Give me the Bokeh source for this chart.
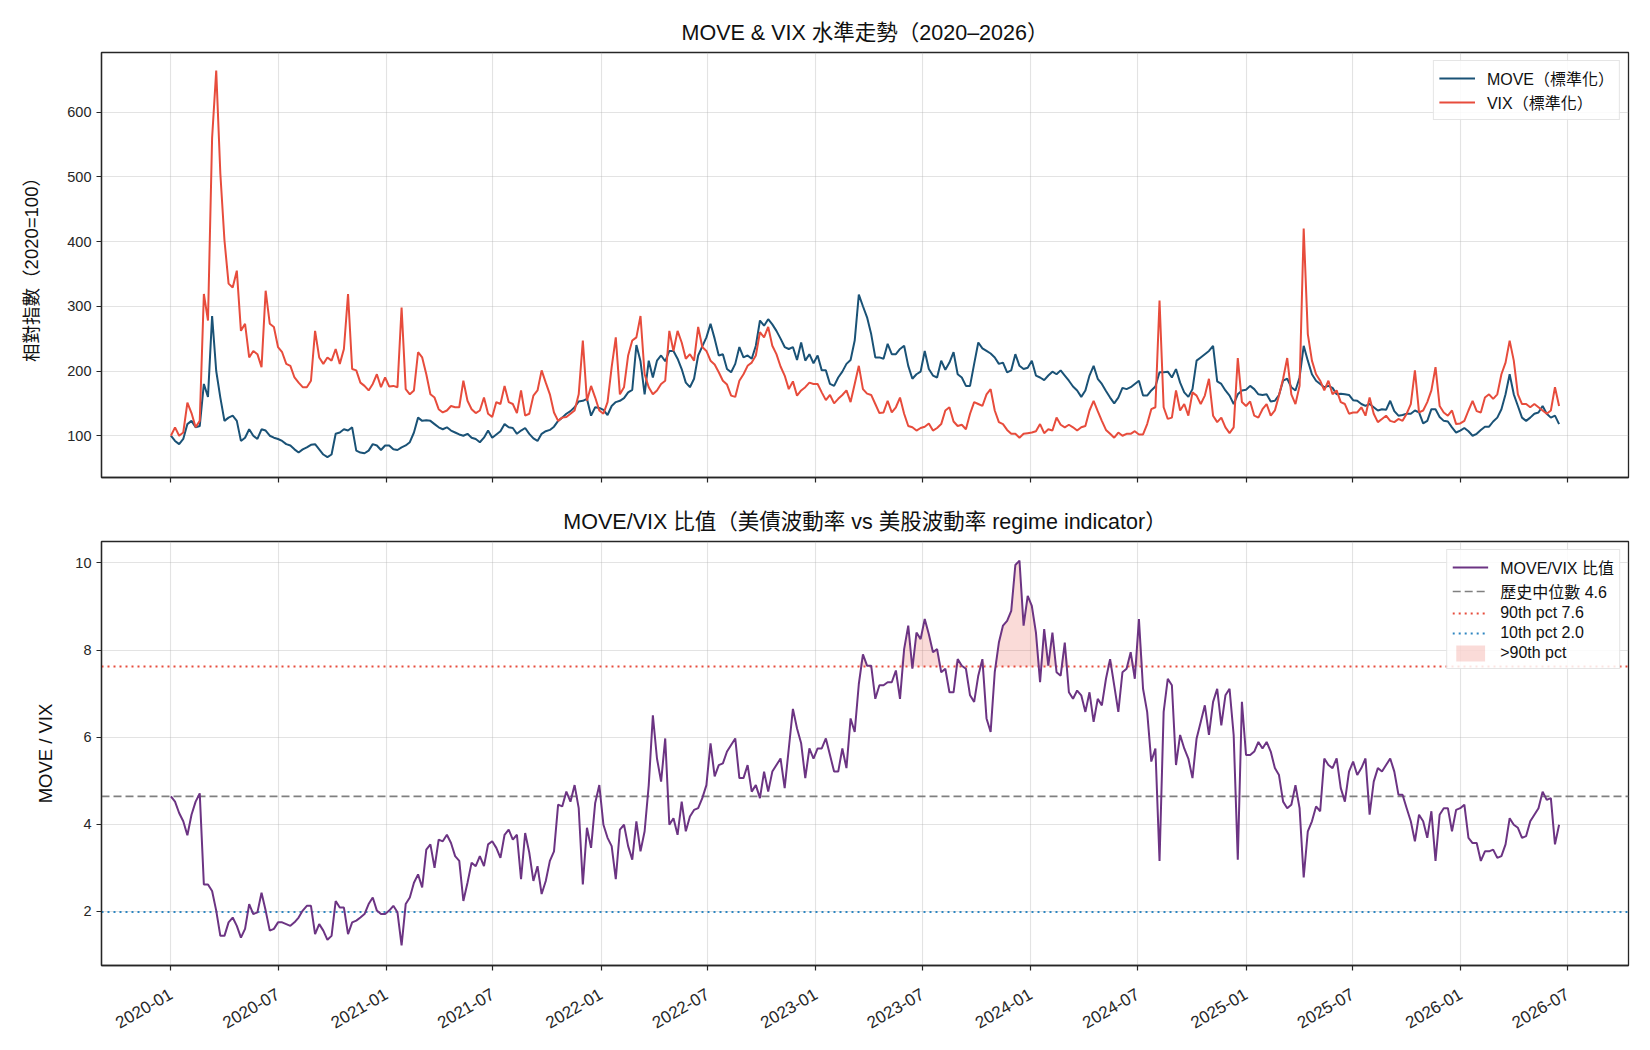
import numpy as np
import pandas as pd
from bokeh.plotting import figure
from bokeh.layouts import column
from bokeh.models import (ColumnDataSource, FixedTicker, DatetimeTickFormatter,
                          Legend, Range1d, CustomLabelingPolicy)
from bokeh.embed import file_html
from bokeh.resources import INLINE
from math import pi

# ---------------- data (weekly samples) ----------------
start_date = "2020-01-01"
n_weeks = 338

move_norm = [
    100, 92, 87, 95, 118, 123, 113, 115, 180, 160, 285, 200, 159, 123, 128, 131, 123, 92, 97, 110,
    100, 95, 110, 108, 100, 97, 95, 92, 87, 85, 79, 74, 79, 82, 86, 87, 79, 71, 67, 71,
    103, 105, 110, 108, 113, 77, 74, 73, 77, 87, 85, 78, 85, 85, 79, 78, 82, 85, 90, 105,
    128, 123, 124, 123, 118, 113, 110, 113, 108, 105, 102, 100, 103, 97, 95, 90, 97, 108, 97, 102,
    107, 118, 113, 112, 103, 108, 112, 103, 96, 92, 103, 107, 109, 114, 123, 128, 134, 138, 144, 153,
    154, 157, 131, 144, 143, 140, 132, 146, 152, 154, 158, 167, 171, 240, 215, 164, 216, 190, 216, 224,
    215, 231, 231, 219, 203, 182, 175, 188, 224, 238, 252, 273, 250, 224, 226, 203, 198, 211, 237, 221,
    224, 219, 239, 278, 270, 280, 272, 262, 250, 237, 234, 237, 217, 244, 216, 226, 212, 224, 201, 201,
    180, 177, 190, 199, 211, 217, 247, 318, 300, 283, 257, 221, 221, 219, 242, 226, 226, 234, 239, 208,
    188, 195, 199, 231, 203, 193, 190, 216, 202, 213, 229, 195, 190, 177, 177, 211, 244, 235, 231, 227,
    221, 211, 213, 198, 201, 226, 208, 203, 205, 216, 193, 190, 186, 193, 199, 195, 201, 193, 185, 176,
    170, 160, 170, 193, 208, 188, 180, 169, 159, 150, 159, 174, 172, 175, 180, 185, 162, 162, 170, 176,
    198, 198, 199, 190, 203, 182, 167, 160, 172, 216, 221, 226, 231, 239, 184, 180, 170, 162, 149, 164,
    170, 171, 177, 172, 164, 163, 164, 153, 154, 163, 185, 188, 175, 170, 190, 239, 216, 195, 185, 180,
    175, 177, 174, 164, 165, 164, 163, 155, 154, 149, 146, 149, 144, 139, 141, 140, 154, 138, 131, 132,
    134, 134, 139, 136, 119, 123, 141, 141, 129, 123, 122, 113, 105, 108, 112, 107, 100, 103, 109, 114,
    114, 122, 128, 141, 164, 195, 164, 146, 128, 123, 128, 134, 136, 146, 134, 128, 131, 118,
]

vix_norm = [
    100, 113, 100, 105, 151, 135, 113, 123, 319, 278, 560, 664, 505, 402, 335, 329, 355, 262, 273, 221,
    231, 226, 206, 324, 273, 268, 237, 229, 211, 208, 190, 182, 175, 175, 185, 262, 221, 211, 221, 216,
    234, 211, 234, 319, 203, 201, 182, 177, 170, 180, 195, 175, 190, 176, 177, 175, 298, 172, 164, 170,
    229, 221, 195, 164, 159, 141, 136, 139, 146, 144, 144, 185, 154, 141, 135, 139, 159, 134, 129, 152,
    149, 177, 152, 149, 135, 170, 131, 134, 162, 170, 201, 182, 164, 136, 123, 128, 129, 134, 139, 164,
    247, 154, 177, 159, 139, 134, 152, 206, 252, 164, 175, 224, 247, 252, 285, 195, 175, 164, 170, 180,
    185, 262, 231, 262, 244, 219, 226, 216, 268, 237, 231, 216, 210, 198, 185, 179, 162, 160, 185, 195,
    208, 213, 224, 260, 252, 268, 239, 226, 207, 193, 172, 184, 162, 170, 175, 182, 180, 180, 167, 155,
    163, 150, 157, 163, 170, 152, 180, 208, 172, 165, 163, 149, 135, 136, 154, 136, 144, 159, 134, 115,
    113, 108, 112, 114, 119, 108, 112, 118, 139, 144, 122, 115, 117, 110, 134, 152, 149, 146, 164, 172,
    139, 121, 118, 109, 103, 103, 97, 103, 104, 105, 107, 118, 104, 110, 108, 128, 117, 113, 117, 113,
    108, 113, 115, 139, 154, 138, 123, 109, 103, 97, 105, 100, 103, 103, 107, 102, 102, 118, 141, 144,
    309, 144, 126, 128, 170, 139, 149, 131, 167, 162, 149, 162, 188, 131, 121, 128, 113, 104, 113, 220,
    152, 146, 153, 131, 128, 141, 149, 131, 139, 162, 188, 220, 164, 149, 177, 420, 257, 216, 195, 185,
    170, 185, 164, 170, 152, 149, 134, 136, 136, 144, 131, 159, 134, 121, 126, 131, 123, 121, 126, 123,
    134, 149, 201, 136, 139, 152, 170, 206, 146, 136, 131, 139, 118, 119, 123, 139, 154, 138, 136, 159,
    164, 157, 164, 195, 213, 247, 216, 164, 149, 149, 144, 149, 144, 139, 134, 139, 175, 146,
]

move_vix_ratio = [
    4.64, 4.52, 4.26, 4.07, 3.75, 4.22, 4.52, 4.71, 2.62, 2.62, 2.47, 2.02, 1.44, 1.44, 1.75, 1.86, 1.67, 1.40, 1.60, 2.17,
    1.94, 1.98, 2.43, 2.02, 1.56, 1.60, 1.75, 1.75, 1.71, 1.67, 1.75, 1.86, 2.02, 2.13, 2.13, 1.48, 1.71, 1.56, 1.35, 1.44,
    2.24, 2.09, 2.09, 1.48, 1.75, 1.79, 1.86, 1.94, 2.17, 2.32, 2.02, 1.94, 1.94, 2.02, 2.13, 1.98, 1.22, 2.17, 2.32, 2.66,
    2.85, 2.55, 3.42, 3.54, 3.00, 3.65, 3.61, 3.76, 3.57, 3.27, 3.16, 2.24, 2.66, 3.12, 3.04, 3.27, 3.04, 3.54, 3.61, 3.46,
    3.23, 3.76, 3.88, 3.65, 3.76, 2.74, 3.80, 3.35, 2.70, 3.04, 2.40, 2.70, 3.16, 3.38, 4.45, 4.41, 4.75, 4.52, 4.90, 4.37,
    2.62, 3.92, 3.46, 4.49, 4.90, 3.99, 3.69, 3.50, 2.74, 3.88, 3.99, 3.50, 3.19, 4.07, 3.38, 3.84, 4.90, 6.50, 5.51, 4.98,
    5.97, 3.99, 4.14, 3.76, 4.52, 3.84, 4.18, 4.33, 4.37, 4.60, 4.90, 5.86, 5.10, 5.36, 5.40, 5.67, 5.82, 5.97, 5.06, 5.06,
    5.36, 4.75, 4.90, 4.60, 5.21, 4.75, 5.21, 5.36, 5.51, 4.83, 5.74, 6.65, 6.20, 5.86, 5.06, 5.74, 5.51, 5.74, 5.74, 5.97,
    5.59, 5.21, 5.21, 5.74, 5.29, 6.43, 6.12, 7.22, 7.90, 7.64, 7.64, 6.88, 7.19, 7.19, 7.26, 7.26, 7.53, 6.88, 8.02, 8.56,
    7.57, 8.40, 8.25, 8.71, 8.36, 7.95, 8.02, 7.49, 7.57, 7.03, 7.03, 7.79, 7.64, 7.57, 6.96, 6.81, 7.41, 7.79, 6.43, 6.12,
    7.49, 8.17, 8.56, 8.67, 8.90, 9.95, 10.05, 8.56, 9.24, 9.01, 8.40, 7.26, 8.48, 7.64, 8.40, 7.49, 7.41, 8.17, 7.03, 6.88,
    7.07, 6.96, 6.58, 7.03, 6.35, 6.88, 6.73, 7.34, 7.79, 7.19, 6.58, 7.49, 7.57, 7.95, 7.34, 8.71, 7.11, 6.58, 5.44, 5.74,
    3.16, 6.58, 7.34, 7.19, 5.36, 6.05, 5.74, 5.51, 5.06, 5.97, 6.35, 6.73, 6.05, 6.81, 7.11, 6.27, 6.96, 7.11, 6.05, 3.19,
    6.81, 5.59, 5.59, 5.67, 5.89, 5.74, 5.89, 5.67, 5.29, 5.13, 4.52, 4.37, 4.45, 4.90, 4.37, 2.78, 3.84, 4.07, 4.41, 4.30,
    5.51, 5.36, 5.29, 5.51, 4.83, 4.52, 5.21, 5.44, 5.13, 5.29, 5.51, 4.22, 4.98, 5.29, 5.21, 5.36, 5.51, 5.21, 4.68, 4.68,
    4.37, 4.07, 3.61, 4.22, 4.07, 3.69, 4.30, 3.16, 4.22, 4.37, 4.37, 3.84, 4.33, 4.37, 4.45, 3.69, 3.57, 3.57, 3.16, 3.38,
    3.38, 3.42, 3.23, 3.27, 3.54, 4.14, 3.99, 3.92, 3.69, 3.73, 4.07, 4.22, 4.37, 4.75, 4.56, 4.60, 3.54, 3.99,
]

ratio_median = 4.64
ratio_p90 = 7.62
ratio_p10 = 1.99

tick_dates = ["2020-01-01", "2020-07-01", "2021-01-01", "2021-07-01", "2022-01-01",
              "2022-07-01", "2023-01-01", "2023-07-01", "2024-01-01", "2024-07-01",
              "2025-01-01", "2025-07-01", "2026-01-01", "2026-07-01"]
top_yticks = [100, 200, 300, 400, 500, 600]
bot_yticks = [2, 4, 6, 8, 10]

# ---------------- styling ----------------
FONT = '"Liberation Sans", "Noto Sans CJK TC"'
C_MOVE = "#1a5276"
C_VIX = "#e74c3c"
C_RATIO = "#6c3483"
C_MED = "#808080"
C_P10 = "#2e86c1"
AX = "#262626"

dates = pd.date_range(start_date, periods=n_weeks, freq="7D")
src = ColumnDataSource(dict(
    date=dates,
    move=move_norm,
    vix=vix_norm,
    ratio=move_vix_ratio,
    fill_lo=[ratio_p90] * n_weeks,
    fill_hi=np.maximum(np.array(move_vix_ratio), ratio_p90),
))

span = dates[-1] - dates[0]
x0 = (dates[0] - span * 0.05).to_pydatetime()
x1 = (dates[-1] + span * 0.05).to_pydatetime()
xr = Range1d(x0, x1)

tick_ms = [float(t) for t in (pd.to_datetime(tick_dates).astype("int64") // 10**6)]
fmt = "%Y-%m"
dt_fmt = DatetimeTickFormatter(milliseconds=fmt, seconds=fmt, minsec=fmt, minutes=fmt,
                               hourmin=fmt, hours=fmt, days=fmt, months=fmt, years=fmt)


def style(p, yticks):
    p.title.text_font = FONT
    p.title.text_font_size = "21.5px"
    p.title.text_font_style = "normal"
    p.title.align = "center"
    p.title.text_color = "#111111"
    p.title.standoff = 15
    p.outline_line_color = AX
    p.outline_line_width = 1.3
    p.outline_line_alpha = 1
    p.background_fill_color = "white"
    p.border_fill_color = "white"
    p.xaxis.ticker = FixedTicker(ticks=tick_ms)
    p.xaxis.formatter = dt_fmt
    p.yaxis.ticker = FixedTicker(ticks=yticks)
    for ax in (p.xaxis, p.yaxis):
        ax.axis_line_color = AX
        ax.axis_line_width = 1.3
        ax.major_tick_line_color = AX
        ax.major_tick_line_width = 1.2
        ax.major_tick_out = 5
        ax.major_tick_in = 0
        ax.minor_tick_line_color = None
        ax.major_label_text_font = FONT
        ax.major_label_text_font_size = "14.5px"
        ax.major_label_text_color = AX
        ax.axis_label_text_font = FONT
        ax.axis_label_text_font_size = "18.5px"
        ax.axis_label_text_font_style = "normal"
        ax.axis_label_text_color = "#111111"
    p.xgrid.grid_line_color = "#b0b0b0"
    p.ygrid.grid_line_color = "#b0b0b0"
    p.xgrid.grid_line_alpha = 0.35
    p.ygrid.grid_line_alpha = 0.35
    p.xgrid.grid_line_width = 1.1
    p.ygrid.grid_line_width = 1.1


def style_legend(lg):
    lg.location = "top_right"
    lg.label_text_font = FONT
    lg.label_text_font_size = "16px"
    lg.label_text_color = "#111111"
    lg.glyph_width = 36
    lg.glyph_height = 20
    lg.label_height = 20
    lg.label_standoff = 12
    lg.spacing = 0
    lg.padding = 5
    lg.margin = 8
    lg.border_line_color = "#cccccc"
    lg.border_line_width = 1.2
    lg.background_fill_alpha = 0.85


# ---------------- top panel ----------------
p1 = figure(width=1650, height=500, x_range=xr, y_range=Range1d(35.5, 692),
            x_axis_type="datetime", output_backend="svg", toolbar_location=None,
            title="MOVE & VIX 水準走勢（2020–2026）",
            min_border_left=101, min_border_right=22, min_border_top=52, min_border_bottom=23)
style(p1, top_yticks)
# shared x axis: the upper panel shows tick marks only, no tick labels
p1.xaxis.major_label_policy = CustomLabelingPolicy(
    code="for (const i of indices) { indices.unset(i) }\nreturn indices")
p1.yaxis.axis_label = "相對指數（2020=100）"
p1.yaxis.axis_label_standoff = 22

r_move = p1.line("date", "move", source=src, line_color=C_MOVE, line_width=2)
r_vix = p1.line("date", "vix", source=src, line_color=C_VIX, line_width=2)
lg1 = Legend(items=[("MOVE（標準化）", [r_move]), ("VIX（標準化）", [r_vix])])
style_legend(lg1)
p1.add_layout(lg1)

# ---------------- bottom panel ----------------
p2 = figure(width=1650, height=550, x_range=xr, y_range=Range1d(0.76, 10.49),
            x_axis_type="datetime", output_backend="svg", toolbar_location=None,
            title="MOVE/VIX 比值（美債波動率 vs 美股波動率 regime indicator）",
            min_border_left=101, min_border_right=22, min_border_top=39, min_border_bottom=85)
style(p2, bot_yticks)
p2.xaxis.major_label_orientation = pi / 6
p2.xaxis.major_label_text_font_size = "17px"
p2.xaxis.major_label_standoff = 22
p2.yaxis.axis_label = "MOVE / VIX"
p2.yaxis.axis_label_standoff = 16

r_fill = p2.varea(x="date", y1="fill_lo", y2="fill_hi", source=src,
                  fill_color=C_VIX, fill_alpha=0.2)
hx = [x0, x1]
r_med = p2.line(hx, [ratio_median] * 2, line_color=C_MED, line_width=1.6, line_dash="8 4")
r_p90 = p2.line(hx, [ratio_p90] * 2, line_color=C_VIX, line_width=2, line_dash="2 4")
r_p10 = p2.line(hx, [ratio_p10] * 2, line_color=C_P10, line_width=2, line_dash="2 4")
r_ratio = p2.line("date", "ratio", source=src, line_color=C_RATIO, line_width=2)

lg2 = Legend(items=[
    ("MOVE/VIX 比值", [r_ratio]),
    (f"歷史中位數 {ratio_median:.1f}", [r_med]),
    (f"90th pct {ratio_p90:.1f}", [r_p90]),
    (f"10th pct {ratio_p10:.1f}", [r_p10]),
    (">90th pct", [r_fill]),
])
style_legend(lg2)
p2.add_layout(lg2)

layout = column(p1, p2, spacing=0)
open("out.html", "w").write(file_html(layout, INLINE))
